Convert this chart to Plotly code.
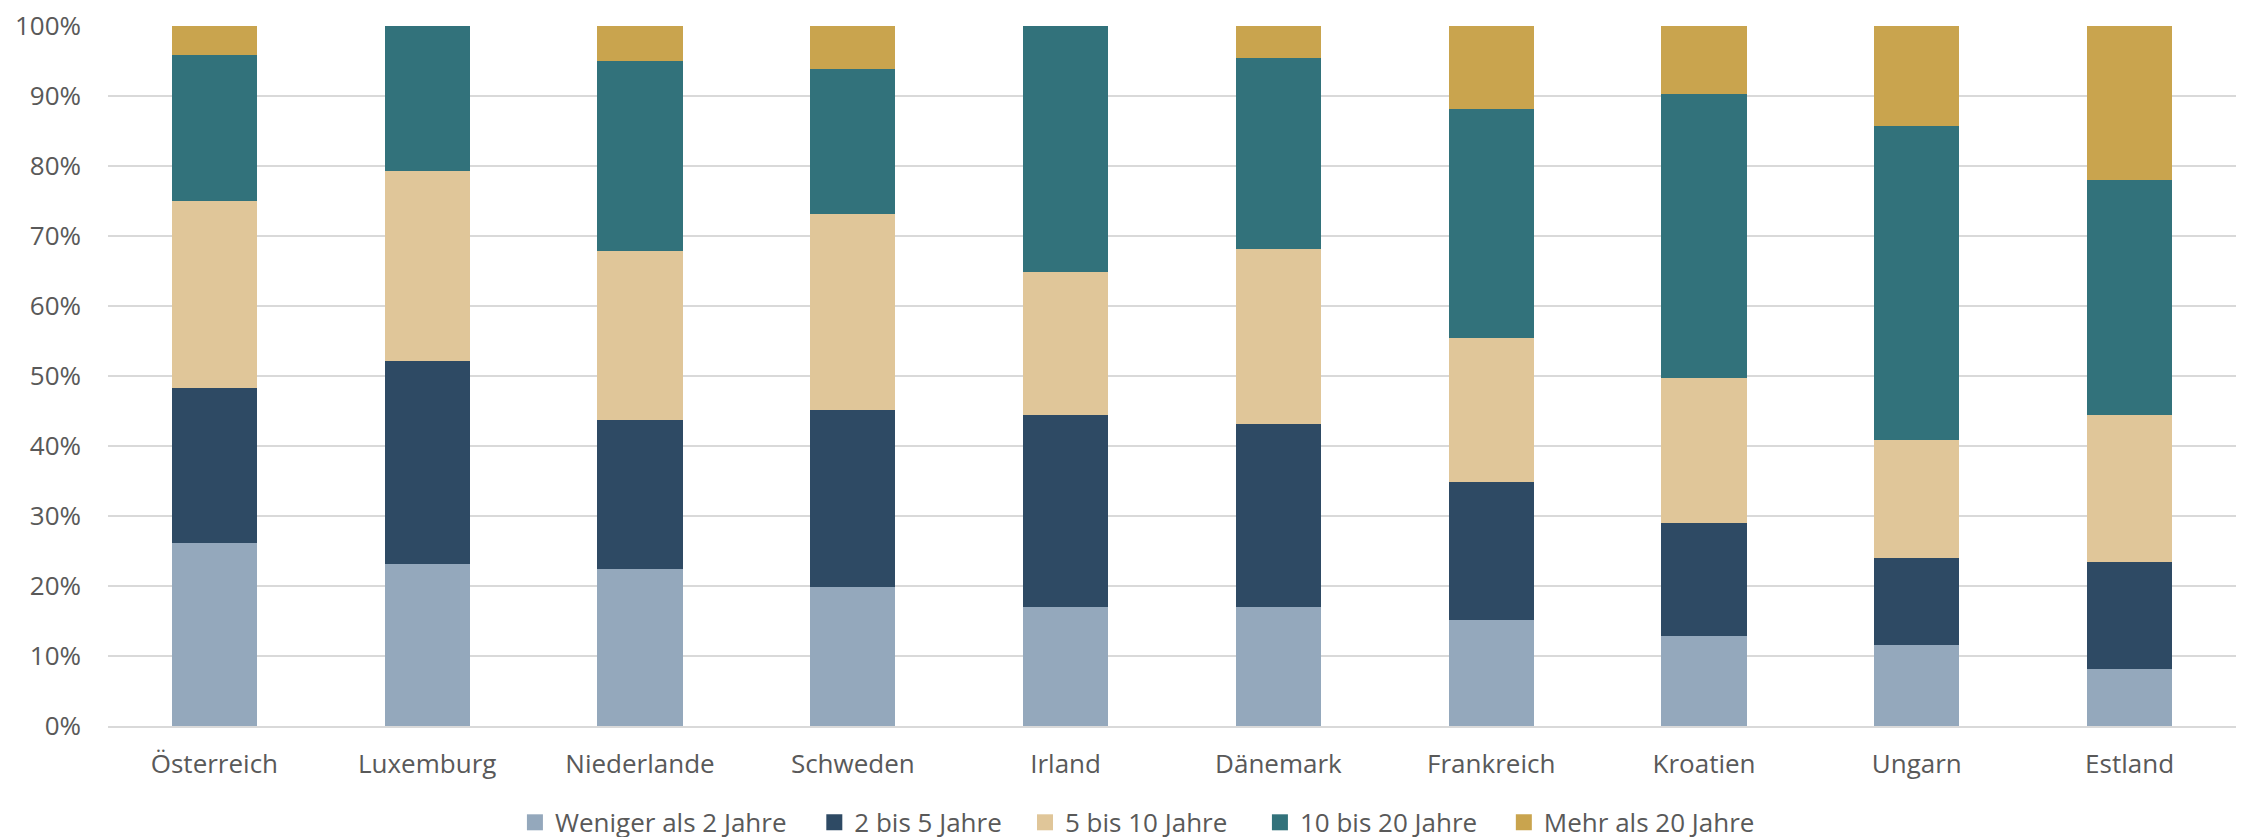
import plotly.graph_objects as go

countries = ["Österreich", "Luxemburg", "Niederlande", "Schweden", "Irland",
             "Dänemark", "Frankreich", "Kroatien", "Ungarn", "Estland"]
series_names = ["Weniger als 2 Jahre", "2 bis 5 Jahre", "5 bis 10 Jahre",
                "10 bis 20 Jahre", "Mehr als 20 Jahre"]
weniger_2 = [26.2, 23.2, 22.5, 19.9, 17.0, 17.0, 15.1, 12.8, 11.6, 8.2]
bis_5 = [22.1, 29.0, 21.2, 25.2, 27.5, 26.1, 19.8, 16.2, 12.4, 15.3]
bis_10 = [26.7, 27.1, 24.1, 28.1, 20.3, 25.0, 20.6, 20.7, 16.9, 21.0]
bis_20 = [20.8, 20.7, 27.2, 20.7, 35.2, 27.4, 32.7, 40.6, 44.8, 33.5]
mehr_20 = [4.2, 0.0, 5.0, 6.1, 0.0, 4.5, 11.8, 9.7, 14.3, 22.0]
colors = ["#94A8BC", "#2E4A64", "#E0C699", "#32727B", "#C9A44E"]

# left edge of each legend entry (fraction of figure width)
legend_x = [0.2257, 0.3590, 0.4528, 0.5574, 0.6660]

values = [weniger_2, bis_5, bis_10, bis_20, mehr_20]
legend_ids = ["legend", "legend2", "legend3", "legend4", "legend5"]
fig = go.Figure()
for name, vals, col in zip(series_names, values, colors):
    fig.add_trace(go.Bar(x=countries, y=[v / 100 for v in vals], name=name,
                         marker=dict(color=col, line=dict(width=0)),
                         showlegend=False, legendgroup=name))
# legend entries with larger square swatches, one legend per entry
for name, col, lid in zip(series_names, colors, legend_ids):
    fig.add_trace(go.Scatter(x=[None], y=[None], mode="markers", name=name,
                             legendgroup=name, legend=lid,
                             marker=dict(symbol="square", size=17, color=col)))

font_family = "Open Sans"
legend_style = dict(orientation="h", xref="container", yref="container",
                    xanchor="left", yanchor="middle", y=0.027,
                    font=dict(size=26, color="#595959"), itemwidth=30,
                    bgcolor="rgba(0,0,0,0)")
layout_legends = {}
for lid, lx in zip(legend_ids, legend_x):
    layout_legends[lid] = dict(legend_style, x=lx)

fig.update_layout(
    barmode="stack",
    bargap=0.6,
    width=2246, height=837,
    margin=dict(l=100, r=18, t=18, b=119),
    plot_bgcolor="white", paper_bgcolor="white",
    font=dict(family=font_family, size=26, color="#595959"),
    xaxis=dict(showgrid=False, showline=True, linecolor="#D9D9D9", linewidth=2,
               ticks="", tickfont=dict(size=26, color="#595959"),
               ticklabelstandoff=14, automargin=False),
    yaxis=dict(range=[0, 1], tickformat=".0%", dtick=0.1, showgrid=True,
               gridcolor="#D9D9D9", gridwidth=1.5, zeroline=False,
               ticks="", tickfont=dict(size=26, color="#595959"), ticklabelstandoff=26,
               ticklabeloverflow="allow", automargin=False),
    **layout_legends,
)
fig.write_html("out.html")
